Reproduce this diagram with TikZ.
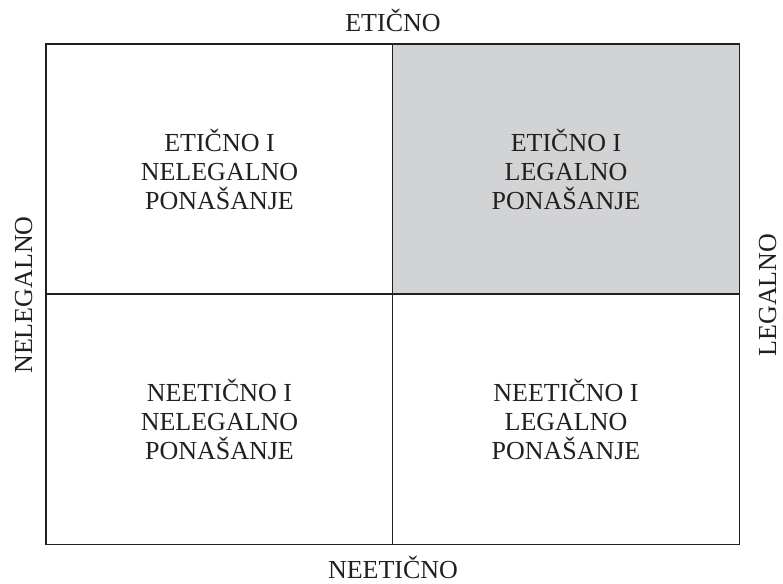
\documentclass[tikz,border=0pt]{standalone}
\usepackage{fontspec}
\setmainfont{Liberation Serif}
\definecolor{linec}{HTML}{231F20}
\definecolor{cellgray}{HTML}{D1D3D4}
\begin{document}
\begin{tikzpicture}[x=1pt,y=-1pt,
  cell/.style={draw=linec, line width=1.5pt, minimum width=347pt, minimum height=250pt, inner sep=0pt, align=center, text=linec, font=\fontsize{26}{29}\selectfont},
  axislabel/.style={inner sep=0pt, text=linec, font=\fontsize{26}{29}\selectfont}]
\useasboundingbox (0,0) rectangle (783,583);
\node[cell, fill=white] (tl) at (219.5,169) {ETIČNO I\\NELEGALNO\\PONAŠANJE};
\node[cell, fill=cellgray] (tr) at (566,169) {ETIČNO I\\LEGALNO\\PONAŠANJE};
\node[cell, fill=white] (bl) at (219.5,419.5) {NEETIČNO I\\NELEGALNO\\PONAŠANJE};
\node[cell, fill=white] (br) at (566,419.5) {NEETIČNO I\\LEGALNO\\PONAŠANJE};
\node[axislabel, anchor=base] (top) at (393,32) {ETIČNO};
\node[axislabel, anchor=base] (bottom) at (393,578) {NEETIČNO};
\node[axislabel, anchor=base, rotate=90] (left) at (32,295) {NELEGALNO};
\node[axislabel, anchor=base, rotate=90] (right) at (776,295) {LEGALNO};
\end{tikzpicture}
\end{document}
